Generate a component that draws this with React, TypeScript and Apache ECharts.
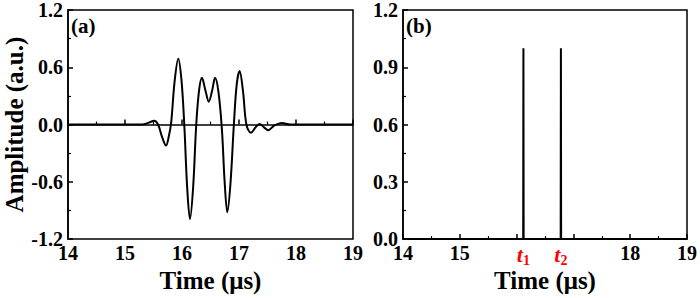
import React, { useEffect, useRef } from "react";
import * as echarts from "echarts";

// Panel (a): waveform
const timeA = [14.0, 15.0, 15.3, 15.42, 15.51, 15.58, 15.65, 15.72, 15.77, 15.81, 15.87, 15.935, 15.99, 16.04, 16.09, 16.14, 16.195, 16.25, 16.3, 16.35, 16.41, 16.47, 16.53, 16.58, 16.64, 16.7, 16.75, 16.795, 16.85, 16.91, 16.96, 17.01, 17.07, 17.13, 17.21, 17.29, 17.36, 17.44, 17.51, 17.62, 17.75, 17.9, 19.0];
const ampA = [0, 0, 0, 0.02, 0.04, 0.0, -0.13, -0.22, -0.12, 0.02, 0.45, 0.69, 0.47, 0.0, -0.65, -0.99, -0.66, 0.0, 0.36, 0.49, 0.36, 0.24, 0.36, 0.49, 0.34, -0.05, -0.62, -0.92, -0.62, 0.0, 0.42, 0.56, 0.35, 0.0, -0.086, -0.03, 0.007, -0.03, -0.06, -0.01, 0.017, 0.0, 0];

// Panel (b): spikes
const spikeTimes = [16.12, 16.78];
const spikeAmps = [1.0, 1.0];
const spikeSubs = ["1", "2"];

// Axes
const xTicks = [14, 15, 16, 17, 18, 19];
const hiddenXTicksB = [16, 17];
const yTicksA = [-1.2, -0.6, 0.0, 0.6, 1.2];
const yTicksB = [0.0, 0.3, 0.6, 0.9, 1.2];
const panelLabels = ["(a)", "(b)"];
const xTitle = "Time (μs)";
const yTitle = "Amplitude (a.u.)";

const FONT = "'Liberation Serif', 'Times New Roman', serif";
const RED = "#ff0000";

export default function App() {
  const ref = useRef<HTMLDivElement>(null);
  useEffect(() => {
    if (!ref.current) return;
    const chart = echarts.init(ref.current, null, { renderer: "svg" });

    const spikeData: number[][] = [[xTicks[0], 0]];
    spikeTimes.forEach((t, i) => {
      spikeData.push([t - 0.004, 0], [t, spikeAmps[i]], [t + 0.004, 0]);
    });
    spikeData.push([xTicks[xTicks.length - 1], 0]);

    const gridA = { left: 68, right: 347, top: 10, bottom: 56 };
    const gridB = { left: 403, right: 11, top: 10, bottom: 56 };

    const baseGrid = { show: true, borderColor: "#000", borderWidth: 1.5, backgroundColor: "transparent", containLabel: false };

    const xBase = (gi: number, hidden: number[]) => ({
      type: "value",
      gridIndex: gi,
      min: xTicks[0],
      max: xTicks[xTicks.length - 1],
      interval: 1,
      position: "bottom",
      name: xTitle,
      nameLocation: "middle",
      nameGap: 24,
      nameTextStyle: { fontFamily: FONT, fontWeight: "bold", fontSize: 25, color: "#000" },
      axisLine: { show: true, lineStyle: { color: "#000", width: 1.5 } },
      axisTick: { show: true, inside: true, length: 5, lineStyle: { color: "#000", width: 1.5 } },
      minorTick: { show: true, splitNumber: 2, length: 3, lineStyle: { color: "#000", width: 1.2 } },
      splitLine: { show: false },
      axisLabel: {
        fontFamily: FONT,
        fontWeight: "bold",
        fontSize: 20,
        color: "#000",
        margin: 4,
        formatter: (v: number) => (hidden.some((h) => Math.abs(h - v) < 1e-6) ? "" : String(v)),
      },
    });

    const yBase = (gi: number, ticks: number[], interval: number) => ({
      type: "value",
      gridIndex: gi,
      min: ticks[0],
      max: ticks[ticks.length - 1],
      interval,
      axisLine: { show: true, lineStyle: { color: "#000", width: 1.5 } },
      axisTick: { show: true, inside: true, length: 5, lineStyle: { color: "#000", width: 1.5 } },
      minorTick: { show: true, splitNumber: 2, length: 3, lineStyle: { color: "#000", width: 1.2 } },
      splitLine: { show: false },
      axisLabel: {
        fontFamily: FONT,
        fontWeight: "bold",
        fontSize: 20,
        color: "#000",
        margin: 5,
        formatter: (v: number) => v.toFixed(1),
      },
    });

    const yA: any = yBase(0, yTicksA, 0.6);
    yA.name = yTitle;
    yA.nameLocation = "middle";
    yA.nameGap = 40;
    yA.nameTextStyle = { fontFamily: FONT, fontWeight: "bold", fontSize: 25, color: "#000" };

    chart.setOption({
      animation: false,
      backgroundColor: "#fff",
      grid: [
        { ...baseGrid, ...gridA },
        { ...baseGrid, ...gridB },
      ],
      xAxis: [
        xBase(0, []),
        xBase(1, hiddenXTicksB),
        {
          type: "value",
          gridIndex: 1,
          min: xTicks[0],
          max: xTicks[xTicks.length - 1],
          position: "bottom",
          axisLine: { show: false },
          axisTick: { show: false },
          splitLine: { show: false },
          axisLabel: {
            show: true,
            margin: 4,
            customValues: spikeTimes,
            formatter: (v: number) => {
              const i = spikeTimes.findIndex((t) => Math.abs(t - v) < 1e-6);
              return `{t|t}{s|${i >= 0 ? spikeSubs[i] : ""}}`;
            },
            rich: {
              t: { fontFamily: FONT, fontWeight: "bold", fontStyle: "italic", fontSize: 22, color: RED, verticalAlign: "bottom" },
              s: { fontFamily: FONT, fontWeight: "bold", fontSize: 14, color: RED, verticalAlign: "bottom", padding: [0, 0, -2, 0] },
            },
          },
        },
      ],
      yAxis: [yA, yBase(1, yTicksB, 0.3)],
      graphic: [
        { type: "text", left: 71, top: 15, style: { text: panelLabels[0], fontFamily: FONT, fontWeight: "bold", fontSize: 21, fill: "#000" } },
        { type: "text", left: 406, top: 15, style: { text: panelLabels[1], fontFamily: FONT, fontWeight: "bold", fontSize: 21, fill: "#000" } },
      ],
      series: [
        {
          type: "line",
          xAxisIndex: 0,
          yAxisIndex: 0,
          data: timeA.map((t, i) => [t, ampA[i]]),
          smooth: 0.35,
          showSymbol: false,
          lineStyle: { color: "#000", width: 2 },
        },
        {
          type: "line",
          xAxisIndex: 1,
          yAxisIndex: 1,
          data: spikeData,
          showSymbol: false,
          lineStyle: { color: "#000", width: 2 },
        },
      ],
    });
    return () => chart.dispose();
  }, []);
  return <div ref={ref} style={{ position: "fixed", left: 0, top: 0, width: 700, height: 298 }} />;
}
